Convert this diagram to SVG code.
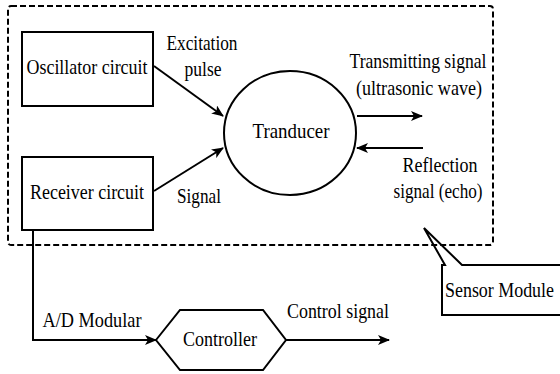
<svg xmlns="http://www.w3.org/2000/svg" width="560" height="374" viewBox="0 0 560 374">
<style>
text{font-family:"Liberation Serif","Times New Roman",serif;font-size:21px;fill:#000}
.m{text-anchor:middle}
.s{fill:none;stroke:#000;stroke-width:2}
</style>
<defs>
<marker id="ah" viewBox="0 0 12 10" refX="11" refY="5" markerWidth="12" markerHeight="10" markerUnits="userSpaceOnUse" orient="auto">
<path d="M0,0 L12,5 L0,10 L3,5 Z" fill="#000"/>
</marker>
</defs>
<rect width="560" height="374" fill="#fff"/>
<g id="sensor-module-boundary">
<rect x="8" y="6" width="485" height="239" rx="3" fill="none" stroke="#000" stroke-width="2" stroke-dasharray="6,3"/>
</g>
<g id="oscillator">
<rect class="s" x="22" y="32" width="131" height="74"/>
<text class="m" x="87" y="74" textLength="121" lengthAdjust="spacingAndGlyphs">Oscillator circuit</text>
</g>
<g id="receiver">
<rect class="s" x="22" y="157" width="131" height="73"/>
<text class="m" x="87" y="199" textLength="114" lengthAdjust="spacingAndGlyphs">Receiver circuit</text>
</g>
<g id="transducer">
<ellipse class="s" cx="290" cy="133" rx="66" ry="62"/>
<text class="m" x="291" y="138" textLength="77" lengthAdjust="spacingAndGlyphs">Tranducer</text>
</g>
<g id="controller">
<polygon class="s" points="156,340 180,310 263,310 286,340 263,370 180,370"/>
<text class="m" x="220" y="346" textLength="74" lengthAdjust="spacingAndGlyphs">Controller</text>
</g>
<g id="sensor-module-callout">
<path class="s" d="M560,315 L442,315 L442,265 L445,265 L424,228 L462,265 L560,265"/>
<text x="445" y="297" textLength="109" lengthAdjust="spacingAndGlyphs">Sensor Module</text>
</g>
<g id="connectors">
<line class="s" x1="154" y1="66" x2="223" y2="116" marker-end="url(#ah)"/>
<line class="s" x1="154" y1="191" x2="223" y2="148" marker-end="url(#ah)"/>
<line class="s" x1="357" y1="116" x2="422" y2="116" marker-end="url(#ah)"/>
<line class="s" x1="423" y1="148" x2="357" y2="148" marker-end="url(#ah)"/>
<polyline class="s" points="33,230 33,340 156,340" marker-end="url(#ah)"/>
<line class="s" x1="286" y1="340" x2="389" y2="340" marker-end="url(#ah)"/>
</g>
<g id="labels">
<text class="m" x="202" y="50" textLength="71" lengthAdjust="spacingAndGlyphs">Excitation</text>
<text class="m" x="203" y="76" textLength="37" lengthAdjust="spacingAndGlyphs">pulse</text>
<text class="m" x="199" y="203" textLength="44" lengthAdjust="spacingAndGlyphs">Signal</text>
<text class="m" x="418" y="68" textLength="137" lengthAdjust="spacingAndGlyphs">Transmitting signal</text>
<text class="m" x="419" y="95" textLength="126" lengthAdjust="spacingAndGlyphs">(ultrasonic wave)</text>
<text class="m" x="440" y="172" textLength="75" lengthAdjust="spacingAndGlyphs">Reflection</text>
<text class="m" x="438" y="198" textLength="89" lengthAdjust="spacingAndGlyphs">signal (echo)</text>
<text class="m" x="92" y="327" textLength="99" lengthAdjust="spacingAndGlyphs">A/D Modular</text>
<text class="m" x="338" y="318" textLength="102" lengthAdjust="spacingAndGlyphs">Control signal</text>
</g>
</svg>
